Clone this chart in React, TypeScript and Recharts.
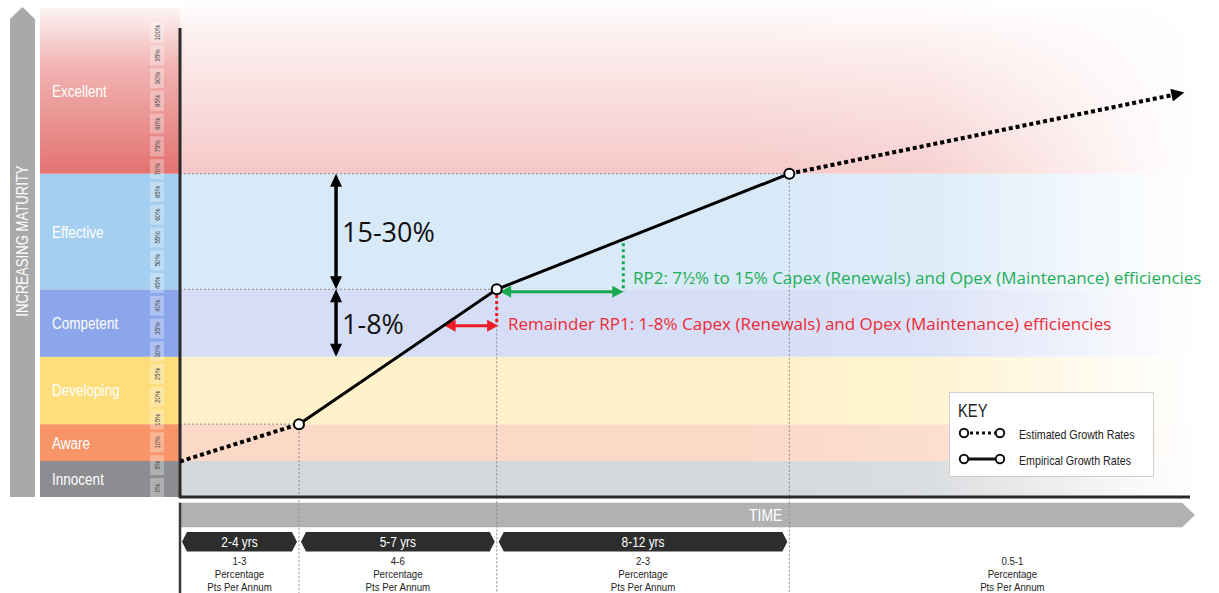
import React from 'react';
import {
  ComposedChart,
  Line,
  XAxis,
  YAxis,
  ReferenceArea,
  ReferenceLine,
  ReferenceDot,
  Legend,
} from 'recharts';

// ---------- data ----------
const levelNames = ['Innocent', 'Aware', 'Developing', 'Competent', 'Effective', 'Excellent'];
const levelLow = [-2, 5.9, 14, 28.8, 43.6, 69];
const levelHigh = [5.9, 14, 28.8, 43.6, 69, 107];
const levelStrong = ['#8c8d90', '#f79569', '#fedd7d', '#8ba6eb', '#a4cff0', 'url(#excellentStrong)'];
const levelPale = ['#d5d8db', '#fcd8c7', '#fff1c9', '#d6ddf6', '#d8e9f8', 'url(#excellentPale)'];
const percentTicks = [0, 5, 10, 15, 20, 25, 30, 35, 40, 45, 50, 55, 60, 65, 70, 75, 80, 85, 90, 95, 100];

const estimatedStart = [
  { t: 0, v: 5.8 },
  { t: 11.78, v: 14 },
];
const empirical = [
  { t: 11.78, v: 14 },
  { t: 31.36, v: 43.6 },
  { t: 60.33, v: 69 },
];
const estimatedEnd = [
  { t: 60.33, v: 69 },
  { t: 98.3, v: 86.3 },
];
const milestones = [
  { t: 11.78, v: 14 },
  { t: 31.36, v: 43.6 },
  { t: 60.33, v: 69 },
];

const phaseStart = [0, 11.78, 31.36, 60.33];
const phaseEnd = [11.78, 31.36, 60.33, 104.5];
const phaseYears = ['2-4 yrs', '5-7 yrs', '8-12 yrs', ''];
const phaseRates = ['1-3', '4-6', '2-3', '0.5-1'];

const legendItems = [
  { label: 'Estimated Growth Rates', dashed: true },
  { label: 'Empirical Growth Rates', dashed: false },
];

// ---------- layout constants (data units) ----------
const COL_LEFT = -13.86;
const COL_TOP = 105.4;
const PLOT_RIGHT = 102;
const TIME_TOP = -3.24;
const TIME_BOTTOM = -8.66;
const SEG_TOP = -9.69;
const SEG_BOTTOM = -13.97;
const PAGE_BOTTOM = -23.1;

const MARGIN = { top: 28, right: 29, bottom: 96, left: 180 };
const AXIS_MARGIN = { top: 28, right: 29, bottom: 96, left: 179 };
const narrowFamily = "'Liberation Sans', Arial, sans-serif";
const NARROW = 0.82;
const sans = "'Open Sans', 'Noto Sans', sans-serif";

// ---------- helpers ----------
const NText = ({
  x,
  y,
  size,
  fill,
  anchor = 'start',
  rotate = 0,
  children,
}: {
  x: number;
  y: number;
  size: number;
  fill: string;
  anchor?: 'start' | 'middle' | 'end';
  rotate?: number;
  children: React.ReactNode;
}) => (
  <g transform={`translate(${x},${y}) rotate(${rotate}) scale(${NARROW},1)`}>
    <text
      x={0}
      y={0}
      fontFamily={narrowFamily}
      fontSize={size}
      fill={fill}
      textAnchor={anchor}
      dominantBaseline="central"
    >
      {children}
    </text>
  </g>
);

const arrowShape = (color: string, width: number, head: number, halfW: number) => (p: any) => {
  const { x1, y1, x2, y2 } = p;
  const dx = x2 - x1;
  const dy = y2 - y1;
  const len = Math.hypot(dx, dy) || 1;
  const ux = dx / len;
  const uy = dy / len;
  const nx = -uy;
  const ny = ux;
  const tri = (tx: number, ty: number, ddx: number, ddy: number) =>
    `${tx},${ty} ${tx - ddx * head + nx * halfW},${ty - ddy * head + ny * halfW} ${tx - ddx * head - nx * halfW},${ty - ddy * head - ny * halfW}`;
  return (
    <g>
      <line
        x1={x1 + ux * head * 0.7}
        y1={y1 + uy * head * 0.7}
        x2={x2 - ux * head * 0.7}
        y2={y2 - uy * head * 0.7}
        stroke={color}
        strokeWidth={width}
      />
      <polygon points={tri(x2, y2, ux, uy)} fill={color} />
      <polygon points={tri(x1, y1, -ux, -uy)} fill={color} />
    </g>
  );
};

const textShape = (text: string, color: string, size: number) => (p: any) => (
  <text
    x={p.cx}
    y={p.cy}
    fill={color}
    fontSize={size}
    fontFamily={sans}
    dominantBaseline="central"
    textAnchor="start"
  >
    {text}
  </text>
);

const columnShape = (name: string, fill: string) => (p: any) => {
  const { x, y, width, height } = p;
  return (
    <g>
      <rect x={x} y={y} width={width} height={height} fill={fill} />
      <NText x={x + 12} y={y + height / 2} size={16.5} fill="#ffffff">
        {name}
      </NText>
    </g>
  );
};

const upArrowShape = (p: any) => {
  const { x, y, width, height } = p;
  const head = 12;
  const pts = `${x},${y + head} ${x + width / 2},${y} ${x + width},${y + head} ${x + width},${y + height} ${x},${y + height}`;
  return (
    <g>
      <polygon points={pts} fill="#a9a9a9" />
      <NText x={x + width / 2} y={y + height / 2 - 11} size={16} fill="#ffffff" anchor="middle" rotate={-90}>
        INCREASING MATURITY
      </NText>
    </g>
  );
};

const rightArrowShape = (p: any) => {
  const { x, y, width, height } = p;
  const head = 13;
  const pts = `${x},${y} ${x + width - head},${y} ${x + width},${y + height / 2} ${x + width - head},${y + height} ${x},${y + height}`;
  return <polygon points={pts} fill="#b1b1b1" />;
};

const timeLabelShape = (p: any) => {
  const { x, y, width, height } = p;
  return (
    <NText x={x + width - 7} y={y + height / 2} size={17} fill="#ffffff" anchor="end">
      TIME
    </NText>
  );
};

const phaseShape = (label: string) => (p: any) => {
  const { x, y, width, height } = p;
  if (!label) return <g />;
  const g = 2;
  const tip = 5;
  const pts = `${x + g},${y + height / 2} ${x + g + tip},${y} ${x + width - g - tip},${y} ${x + width - g},${y + height / 2} ${x + width - g - tip},${y + height} ${x + g + tip},${y + height}`;
  return (
    <g>
      <polygon points={pts} fill="#2d2d2d" />
      <NText x={x + width / 2} y={y + height / 2} size={14.5} fill="#ffffff" anchor="middle">
        {label}
      </NText>
    </g>
  );
};

const rateShape = (rate: string) => (p: any) => {
  const { x, y, width } = p;
  const cx = x + width / 2;
  const lines = [rate, 'Percentage', 'Pts Per Annum'];
  return (
    <g>
      {lines.map((l, i) => (
        <NText key={i} x={cx} y={y + 9.5 + i * 13} size={11.8} fill="#1e1e1e" anchor="middle">
          {l}
        </NText>
      ))}
    </g>
  );
};

const renderTick = (p: any) => {
  const { x, y, payload } = p;
  const cx = x - 23;
  return (
    <g>
      <rect x={cx - 7} y={y - 10} width={14} height={20} fill="rgba(255,255,255,0.3)" />
      <NText x={cx} y={y} size={7.5} fill="#4a4a4a" anchor="middle" rotate={-90}>
        {`${payload.value}%`}
      </NText>
    </g>
  );
};

const narrowSpan = (text: string, size: number) => (
  <span
    style={{
      display: 'inline-block',
      whiteSpace: 'nowrap',
      fontFamily: narrowFamily,
      fontSize: size,
      lineHeight: `${size + 2}px`,
      transform: `scaleX(${NARROW})`,
      transformOrigin: 'left center',
    }}
  >
    {text}
  </span>
);

const renderKey = () => (
  <div
    style={{
      width: 205,
      height: 85,
      boxSizing: 'border-box',
      background: '#fff',
      border: '1px solid #cfcfcf',
      position: 'relative',
      color: '#222',
    }}
  >
    <div style={{ position: 'absolute', left: 8, top: 8 }}>{narrowSpan('KEY', 18)}</div>
    {legendItems.map((item, i) => (
      <div key={item.label} style={{ position: 'absolute', left: 0, top: 40 + i * 26 - 8, height: 16, width: 205 }}>
        <svg width={60} height={16} style={{ position: 'absolute', left: 0, top: 0 }}>
          <line
            x1={14}
            y1={8}
            x2={50}
            y2={8}
            stroke="#111"
            strokeWidth={3}
            strokeDasharray={item.dashed ? '3 3' : undefined}
          />
          <circle cx={14} cy={8} r={4.2} fill="#fff" stroke="#111" strokeWidth={2} />
          <circle cx={50} cy={8} r={4.2} fill="#fff" stroke="#111" strokeWidth={2} />
        </svg>
        <div style={{ position: 'absolute', left: 69, top: 0 }}>{narrowSpan(item.label, 13)}</div>
      </div>
    ))}
  </div>
);

export default function App() {
  return (
    <div style={{ position: 'absolute', left: 0, top: 0, width: 1219, height: 593, background: '#fff' }}>
      <ComposedChart width={1219} height={593} margin={MARGIN}>
        <defs>
          <linearGradient id="excellentStrong" x1="0" y1="0" x2="0" y2="1">
            <stop offset="0%" stopColor="#fdf4f4" />
            <stop offset="35%" stopColor="#f1b4b3" />
            <stop offset="100%" stopColor="#e37371" />
          </linearGradient>
          <linearGradient id="excellentPale" x1="0" y1="0" x2="0" y2="1">
            <stop offset="0%" stopColor="#ffffff" />
            <stop offset="20%" stopColor="#fdf0f0" />
            <stop offset="100%" stopColor="#f6c8c8" />
          </linearGradient>
          <linearGradient id="whiteFade" x1="0" y1="0" x2="1" y2="0">
            <stop offset="0%" stopColor="#fff" stopOpacity={0} />
            <stop offset="40%" stopColor="#fff" stopOpacity={0.15} />
            <stop offset="80%" stopColor="#fff" stopOpacity={0.8} />
            <stop offset="95%" stopColor="#fff" stopOpacity={1} />
          </linearGradient>
          <marker
            id="arrowHead"
            viewBox="0 0 10 10"
            refX="1"
            refY="5"
            markerWidth="15"
            markerHeight="13"
            markerUnits="userSpaceOnUse"
            orient="auto"
          >
            <path d="M0,0 L10,5 L0,10 z" fill="#000" />
          </marker>
        </defs>

        <XAxis type="number" dataKey="t" domain={[0, 100]} allowDataOverflow tick={false} tickLine={false} height={0} axisLine={false} />
        <YAxis type="number" dataKey="v" domain={[-2, 101]} allowDataOverflow width={0} tick={false} tickLine={false} axisLine={false} />

        {/* pale plot bands */}
        {levelNames.map((name, i) => (
          <ReferenceArea
            key={`pale-${name}`}
            x1={0}
            x2={PLOT_RIGHT}
            y1={levelLow[i]}
            y2={levelHigh[i]}
            fill={levelPale[i]}
            fillOpacity={1}
            stroke="none"
            ifOverflow="visible"
          />
        ))}
        <ReferenceArea x1={55} x2={PLOT_RIGHT + 1} y1={-2} y2={108} fill="url(#whiteFade)" fillOpacity={1} stroke="none" ifOverflow="visible" />

        {/* strong label column */}
        {levelNames.map((name, i) => (
          <ReferenceArea
            key={`col-${name}`}
            x1={COL_LEFT}
            x2={0}
            y1={levelLow[i]}
            y2={Math.min(levelHigh[i], COL_TOP)}
            shape={columnShape(name, levelStrong[i])}
            ifOverflow="visible"
          />
        ))}

        {/* increasing maturity arrow */}
        <ReferenceArea x1={-16.83} x2={-14.36} y1={-2} y2={105.6} shape={upArrowShape} ifOverflow="visible" />

        {/* time arrow */}
        <ReferenceArea x1={0} x2={100.5} y1={TIME_BOTTOM} y2={TIME_TOP} shape={rightArrowShape} ifOverflow="visible" />
        <ReferenceArea x1={0} x2={milestones[2].t} y1={TIME_BOTTOM} y2={TIME_TOP} shape={timeLabelShape} ifOverflow="visible" />

        {/* phases */}
        {phaseStart.map((s, i) => (
          <ReferenceArea
            key={`seg-${i}`}
            x1={s}
            x2={phaseEnd[i]}
            y1={SEG_BOTTOM}
            y2={SEG_TOP}
            shape={phaseShape(phaseYears[i])}
            ifOverflow="visible"
          />
        ))}
        {phaseStart.map((s, i) => (
          <ReferenceArea
            key={`rate-${i}`}
            x1={s}
            x2={phaseEnd[i]}
            y1={PAGE_BOTTOM}
            y2={SEG_BOTTOM}
            shape={rateShape(phaseRates[i])}
            ifOverflow="visible"
          />
        ))}

        {/* guide lines */}
        {milestones.map((m, i) => (
          <ReferenceLine
            key={`h-${i}`}
            segment={[
              { x: 0, y: m.v },
              { x: m.t, y: m.v },
            ]}
            stroke="#8a8a8a"
            strokeWidth={1}
            strokeDasharray="2 2"
            ifOverflow="visible"
          />
        ))}
        {milestones.map((m, i) => (
          <ReferenceLine
            key={`v-${i}`}
            segment={[
              { x: m.t, y: m.v },
              { x: m.t, y: PAGE_BOTTOM },
            ]}
            stroke="#8a8a8a"
            strokeWidth={1}
            strokeDasharray="2 2"
            ifOverflow="visible"
          />
        ))}

        {/* axis lines */}
        <ReferenceLine segment={[{ x: 0, y: -2 }, { x: 100, y: -2 }]} stroke="#2a2a2a" strokeWidth={3} ifOverflow="visible" />
        <ReferenceLine segment={[{ x: 0, y: -2.3 }, { x: 0, y: 101 }]} stroke="#2a2a2a" strokeWidth={3} ifOverflow="visible" />
        <ReferenceLine segment={[{ x: 0, y: TIME_TOP }, { x: 0, y: PAGE_BOTTOM }]} stroke="#3a3a3a" strokeWidth={2.5} ifOverflow="visible" />

        {/* black span arrows */}
        <ReferenceLine segment={[{ x: 15.45, y: 69 }, { x: 15.45, y: 43.6 }]} shape={arrowShape('#000', 3.5, 13, 6)} ifOverflow="visible" />
        <ReferenceLine segment={[{ x: 15.45, y: 43.6 }, { x: 15.45, y: 28.8 }]} shape={arrowShape('#000', 3.5, 13, 6)} ifOverflow="visible" />
        <ReferenceDot x={16.04} y={56.3} r={0} ifOverflow="visible" shape={textShape('15-30%', '#111', 27)} />
        <ReferenceDot x={16.04} y={36.2} r={0} ifOverflow="visible" shape={textShape('1-8%', '#111', 27)} />

        {/* RP1 red */}
        <ReferenceLine segment={[{ x: 31.36, y: 42.36 }, { x: 31.36, y: 35.62 }]} stroke="#ee1c25" strokeWidth={3} strokeDasharray="3 3" ifOverflow="visible" />
        <ReferenceLine segment={[{ x: 26.2, y: 35.62 }, { x: 31.5, y: 35.62 }]} shape={arrowShape('#ee1c25', 3, 11, 6)} ifOverflow="visible" />
        <ReferenceDot
          x={32.48}
          y={36.0}
          r={0}
          ifOverflow="visible"
          shape={textShape('Remainder RP1: 1-8% Capex (Renewals) and Opex (Maintenance) efficiencies', '#ee2a35', 17)}
        />

        {/* RP2 green */}
        <ReferenceLine segment={[{ x: 43.89, y: 53.72 }, { x: 43.89, y: 43.09 }]} stroke="#1aa94f" strokeWidth={3} strokeDasharray="3 3" ifOverflow="visible" />
        <ReferenceLine segment={[{ x: 31.7, y: 43.09 }, { x: 43.89, y: 43.09 }]} shape={arrowShape('#1aa94f', 3, 11, 6)} ifOverflow="visible" />
        <ReferenceDot
          x={44.85}
          y={46.1}
          r={0}
          ifOverflow="visible"
          shape={textShape('RP2: 7½% to 15% Capex (Renewals) and Opex (Maintenance) efficiencies', '#1fae58', 17)}
        />

        {/* growth lines */}
        <Line
          data={estimatedStart}
          dataKey="v"
          name="Estimated Growth Rates"
          type="linear"
          stroke="#000"
          strokeWidth={4}
          strokeDasharray="4 3"
          dot={false}
          activeDot={false}
          isAnimationActive={false}
        />
        <Line
          data={estimatedEnd}
          dataKey="v"
          name="Estimated Growth Rates (projection)"
          type="linear"
          stroke="#000"
          strokeWidth={4}
          strokeDasharray="4 3"
          dot={false}
          activeDot={false}
          markerEnd="url(#arrowHead)"
          isAnimationActive={false}
        />
        <Line
          data={empirical}
          dataKey="v"
          name="Empirical Growth Rates"
          type="linear"
          stroke="#000"
          strokeWidth={3}
          dot={{ r: 5, fill: '#fff', stroke: '#000', strokeWidth: 2 }}
          activeDot={false}
          isAnimationActive={false}
        />

        <Legend
          layout="vertical"
          align="center"
          verticalAlign="middle"
          content={renderKey}
          wrapperStyle={{ left: 949, top: 392, width: 205, height: 85 }}
        />
      </ComposedChart>

      {/* percentage axis drawn on top of the label column */}
      <div style={{ position: 'absolute', left: 0, top: 0, pointerEvents: 'none' }}>
        <ComposedChart width={1219} height={593} margin={AXIS_MARGIN}>
          <XAxis type="number" dataKey="t" domain={[0, 100]} hide />
          <YAxis
            type="number"
            dataKey="v"
            domain={[-2, 101]}
            allowDataOverflow
            ticks={percentTicks}
            interval={0}
            width={1}
            tickLine={false}
            tickSize={0}
            tickMargin={0}
            axisLine={false}
            tick={renderTick}
          />
          <Line data={empirical} dataKey="v" stroke="none" dot={false} activeDot={false} legendType="none" isAnimationActive={false} />
        </ComposedChart>
      </div>
    </div>
  );
}
